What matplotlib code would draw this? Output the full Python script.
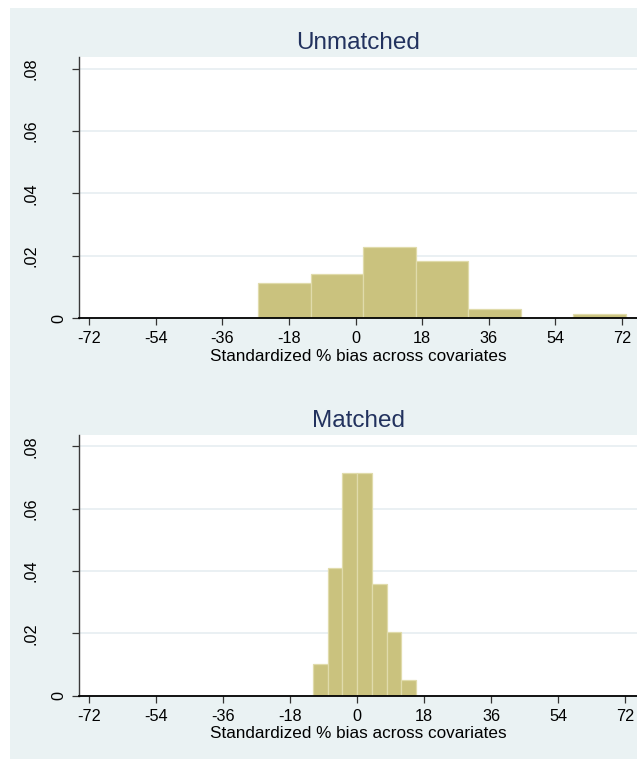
import numpy as np
import matplotlib
matplotlib.use('Agg')
import matplotlib.pyplot as plt
from matplotlib.patches import Rectangle

# histogram data (density)
unm_edges = [-26.3, -12.1, 2.0, 16.3, 30.4, 44.6, 58.7, 73.0]
unm_dens = [0.0114, 0.0143, 0.0227, 0.0185, 0.0030, 0.0, 0.0015]

mat_edges = [-11.85, -7.9, -3.95, 0.0, 3.95, 7.9, 11.85, 15.8]
mat_dens = [0.0102, 0.0410, 0.0715, 0.0715, 0.0357, 0.0203, 0.0050]

xticks = [-72, -54, -36, -18, 0, 18, 36, 54, 72]
yticks = [0, 0.02, 0.04, 0.06, 0.08]
ylabels = ['0', '.02', '.04', '.06', '.08']
xlabel = 'Standardized % bias across covariates'

BG = '#eaf2f3'
BAR = '#cac27e'
BAR_EDGE = '#e0dbab'
TITLE_C = '#22325e'

plt.rcParams['font.family'] = ['Liberation Sans', 'DejaVu Sans']

W, H = 637., 759.
fig = plt.figure(figsize=(W / 100., H / 100.), dpi=100)
fig.patch.set_facecolor('white')
fig.patches.append(Rectangle((10 / W, 0), 1, 1 - 8 / H, transform=fig.transFigure,
                             facecolor=BG, edgecolor='none', zorder=-10))


def draw_panel(ax, edges, dens, title, xlim):
    edges = np.asarray(edges)
    ax.set_facecolor('white')
    ax.bar(edges[:-1], dens, width=np.diff(edges), align='edge',
           color=BAR, edgecolor=BAR_EDGE, linewidth=0.9, zorder=2)
    ax.set_xlim(xlim)
    ax.set_ylim(0, 0.0836)
    ax.set_xticks(xticks)
    ax.set_xticklabels([str(v) for v in xticks])
    ax.set_yticks(yticks)
    ax.set_yticklabels(ylabels, rotation=90, va='center')
    ax.yaxis.grid(True, color='#e6eef1', linewidth=1.2, zorder=0)
    ax.set_axisbelow(True)
    for s in ['top', 'right']:
        ax.spines[s].set_visible(False)
    ax.spines['left'].set_color('#3a3a3a')
    ax.spines['left'].set_linewidth(1.0)
    ax.spines['bottom'].set_color('black')
    ax.spines['bottom'].set_linewidth(1.3)
    ax.tick_params(axis='both', length=5, width=0.9, colors='#333333',
                   labelcolor='black', labelsize=11.7)
    ax.tick_params(axis='x', pad=4.5)
    # the zero label sits closer to the axis than the others
    yt = ax.yaxis.get_major_ticks()
    for i, t in enumerate(yt):
        t.set_pad(3.8 if i == 0 else 24.0)
    ax.set_xlabel(xlabel, fontsize=12.3, labelpad=1.5)
    ax.set_title(title, fontsize=17.5, color=TITLE_C, pad=5.8)


ax1 = fig.add_axes([79 / W, 1 - 318.3 / H, 1 - 79 / W, (318.3 - 57.3) / H])
draw_panel(ax1, unm_edges, unm_dens, 'Unmatched', (-74.78, 76.03))

ax2 = fig.add_axes([79 / W, 1 - 695.7 / H, 1 - 79 / W, (695.7 - 435) / H])
draw_panel(ax2, mat_edges, mat_dens, 'Matched', (-74.77, 75.23))

fig.savefig('out.png', dpi=100, facecolor=fig.get_facecolor())
